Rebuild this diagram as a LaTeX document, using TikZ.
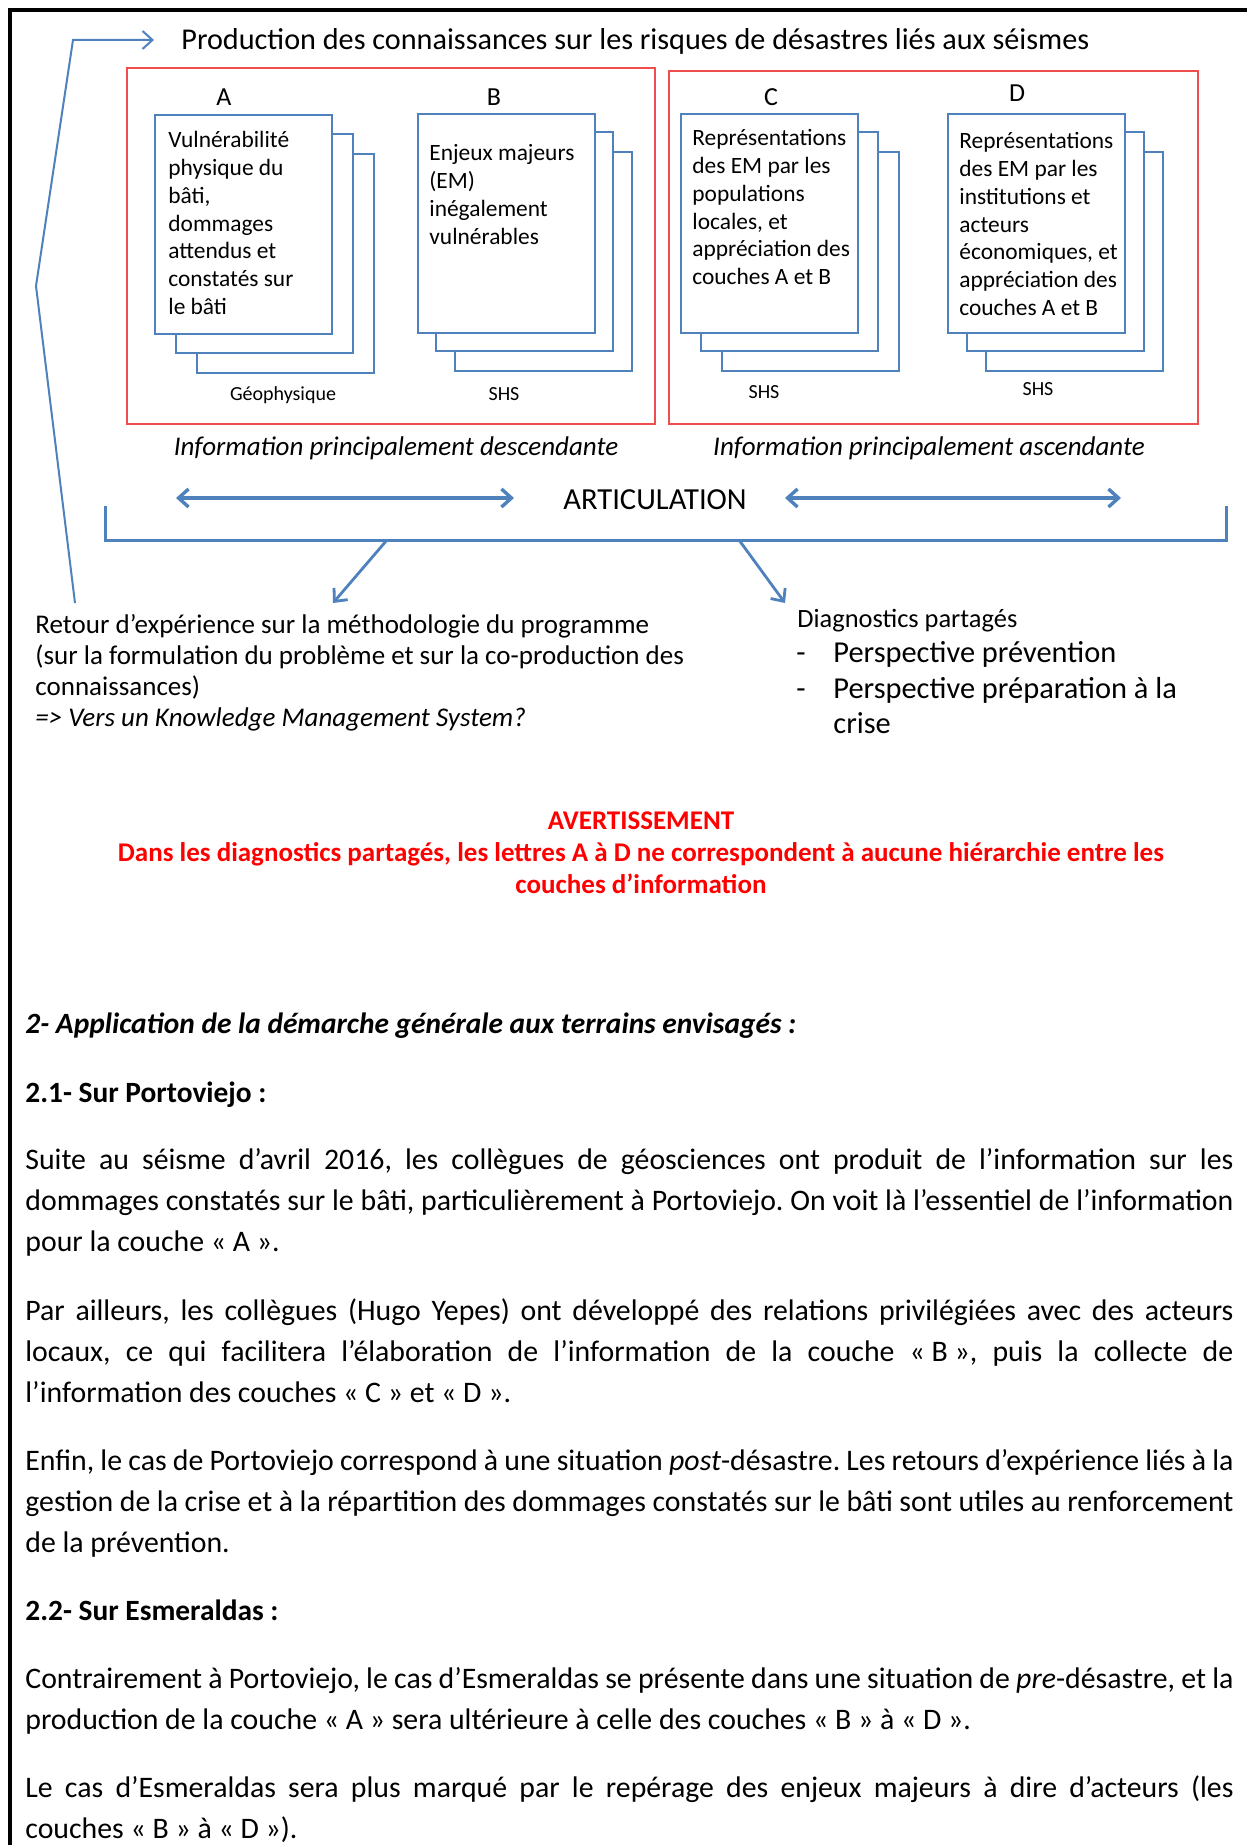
\documentclass[tikz,border=0pt]{standalone}
\usepackage{fontspec}
\setmainfont{Carlito}
\usetikzlibrary{arrows.meta}
\definecolor{obl}{RGB}{79,129,189}
\definecolor{frred}{RGB}{240,78,78}
\definecolor{warn}{RGB}{255,0,0}
\newcommand{\ns}{\spaceskip=0pt\xspaceskip=0pt\relax}
\newcommand{\rs}{\spaceskip=\fontdimen2\font\xspaceskip=\fontdimen2\font\relax}
\newcommand{\jl}[1]{\makebox[604pt][s]{#1}\\}
\newcommand{\gq}[1]{\mbox{« #1 »}}
\frenchspacing
\begin{document}
\begin{tikzpicture}[x=0.5pt,y=-0.5pt,
  pageframe/.style={line width=1.8pt,black},
  redframe/.style={draw=frred,line width=1pt},
  layer/.style={draw=obl,fill=white,line width=1pt,minimum width=88.5pt,minimum height=109.5pt,anchor=north west,inner sep=0pt},
  boxtxt/.style={font=\fontsize{11.7}{13.85}\selectfont,align=left,anchor=base west,inner sep=0pt,text width=95pt},
  letter/.style={font=\fontsize{13}{15}\selectfont,inner sep=0pt},
  lab/.style={font=\fontsize{10}{12}\selectfont,inner sep=0pt,anchor=base},
  conn/.style={draw=obl,line width=1.4pt,-{Straight Barb[length=5pt,width=9pt]}},
  thinconn/.style={draw=obl,line width=1pt,-{Straight Barb[length=5pt,width=9pt]}},
  dbl/.style={draw=obl,line width=1.7pt,{Straight Barb[length=5pt,width=9pt]}-{Straight Barb[length=5pt,width=9pt]}},
  brk/.style={draw=obl,line width=1.5pt},
  body/.style={font=\fontsize{14.9}{20.5}\selectfont,anchor=base west,inner sep=0pt,text width=620pt,align=left},
  head/.style={font=\fontsize{14.7}{16}\selectfont\bfseries,anchor=base west,inner sep=0pt},
  midtxt/.style={font=\fontsize{13.5}{15.5}\selectfont,anchor=base west,inner sep=0pt},
  bullettxt/.style={font=\fontsize{15.2}{17.5}\selectfont,anchor=base west,inner sep=0pt}
]
\useasboundingbox[fill=white] (0,0) rectangle (1247,1845);
% page frame
\draw[pageframe] (10,1845) -- (10,10) -- (1247,10);

% title
\node[font=\fontsize{15.1}{17}\selectfont,anchor=base west,inner sep=0pt] (title) at (181,50) {Production des connaissances sur les risques de désastres liés aux séismes};

% red frames
\draw[redframe] (127,68) rectangle (655,424);
\draw[redframe] (669,71) rectangle (1198,424);

% letters
\node[letter] (LA) at (224,97) {A};
\node[letter] (LB) at (494,97) {B};
\node[letter] (LC) at (771,97) {C};
\node[letter] (LD) at (1017,93) {D};

% stacks
\node[layer] (A3) at (196,153) {};
\node[layer] (A2) at (175,133) {};
\node[layer] (A1) at (154,114) {};
\node[layer] (B3) at (454,151) {};
\node[layer] (B2) at (435,131) {};
\node[layer] (B1) at (417,113) {};
\node[layer] (C3) at (721,151) {};
\node[layer] (C2) at (700,131) {};
\node[layer] (C1) at (680,113) {};
\node[layer] (D3) at (985,151) {};
\node[layer] (D2) at (966,131) {};
\node[layer] (D1) at (947,113) {};

\node[boxtxt] (tA) at (168,148) {\rs Vulnérabilité\\physique du\\bâti,\\dommages\\attendus et\\constatés sur\\le bâti};
\node[boxtxt] (tB) at (429,161) {\rs Enjeux majeurs\\(EM)\\inégalement\\vulnérables};
\node[boxtxt] (tC) at (692,146) {\rs Représentations\\des EM par les\\populations\\locales, et\\appréciation des\\couches A et B};
\node[boxtxt] (tD) at (959,149) {\rs Représentations\\des EM par les\\institutions et\\acteurs\\économiques, et\\appréciation des\\couches A et B};

\node[lab] (gA) at (283,401) {Géophysique};
\node[lab] (gB) at (504,401) {SHS};
\node[lab] (gC) at (764,399) {SHS};
\node[lab] (gD) at (1038,396) {SHS};

% italic captions
\node[font=\fontsize{13.5}{15}\selectfont\itshape,inner sep=0pt,anchor=base] (desc) at (396,456) {Information principalement descendante};
\node[font=\fontsize{13.5}{15}\selectfont\itshape,inner sep=0pt,anchor=base] (asc) at (929,456) {Information principalement ascendante};

% articulation
\node[font=\fontsize{15.3}{17}\selectfont,inner sep=0pt] (art) at (655,500) {ARTICULATION};
\coordinate (la1) at (176,498); \coordinate (la2) at (514,498);
\coordinate (ra1) at (785,498); \coordinate (ra2) at (1121,498);
\draw[dbl] (la1) -- (la2);
\draw[dbl] (ra1) -- (ra2);

% bracket
\coordinate (bl) at (105,506); \coordinate (blc) at (105,540);
\coordinate (brc) at (1226,540); \coordinate (br) at (1226,506);
\draw[brk] (bl) -- (blc) -- (brc) -- (br);
\coordinate (s1) at (387,540); \coordinate (e1) at (333,603);
\coordinate (s2) at (739,540); \coordinate (e2) at (785,603);
\draw[conn] (s1) -- (e1);
\draw[conn] (s2) -- (e2);

% left feedback line
\coordinate (lb) at (75,603); \coordinate (lm) at (36,286);
\coordinate (lt) at (73,40); \coordinate (ti) at (154,40);
\draw[thinconn] (lb) -- (lm) -- (lt) -- (ti);

% retour text
\node[midtxt,text width=420pt,align=left] (ret) at (35,633) {\rs Retour d’expérience sur la méthodologie du programme\\(sur la formulation du problème et sur la co-production des\\connaissances)\\\textit{=> Vers un Knowledge Management System?}};

% diagnostics
\node[midtxt,font=\fontsize{13.2}{15.5}\selectfont] (dg) at (797,627) {Diagnostics partagés};
\node[bullettxt] (dd1) at (796,662) {-};
\node[bullettxt] (dp1) at (833,662) {Perspective prévention};
\node[bullettxt] (dd2) at (796,698) {-};
\node[bullettxt,text width=250pt,align=left] (dp2) at (833,698) {\rs Perspective préparation à la\\crise};

% warning
\node[font=\fontsize{13.5}{16}\selectfont\bfseries,text=warn,anchor=base,inner sep=0pt,align=center,text width=620pt] (warnt) at (641,829) {\rs AVERTISSEMENT\\Dans les diagnostics partagés, les lettres A à D ne correspondent à aucune hiérarchie entre les\\couches d’information};

% section 2
\node[font=\fontsize{14.7}{16}\selectfont\bfseries\itshape,anchor=base west,inner sep=0pt] (h2) at (25,1033) {2- Application de la démarche générale aux terrains envisagés :};
\node[head] (h21) at (25,1102) {2.1- Sur Portoviejo :};
\node[body] (p1) at (25,1169) {\ns\jl{Suite au séisme d’avril 2016, les collègues de géosciences ont produit de l’information sur les}\jl{dommages constatés sur le bâti, particulièrement à Portoviejo. On voit là l’essentiel de l’information}pour la couche \gq{A}.};
\node[body] (p2) at (25,1320) {\ns\jl{Par ailleurs, les collègues (Hugo Yepes) ont développé des relations privilégiées avec des acteurs}\jl{locaux, ce qui facilitera l’élaboration de l’information de la couche \gq{B}, puis la collecte de}l’information des couches \gq{C} et \gq{D}.};
\node[body] (p3) at (25,1470) {\ns\jl{Enfin, le cas de Portoviejo correspond à une situation \textit{post}-désastre. Les retours d’expérience liés à la}\jl{gestion de la crise et à la répartition des dommages constatés sur le bâti sont utiles au renforcement}de la prévention.};
\node[head] (h22) at (25,1620) {2.2- Sur Esmeraldas :};
\node[body] (p4) at (25,1688) {\ns\jl{Contrairement à Portoviejo, le cas d’Esmeraldas se présente dans une situation de \textit{pre}-désastre, et la}production de la couche \gq{A} sera ultérieure à celle des couches \gq{B} à \gq{D}.};
\node[body] (p5) at (25,1797) {\ns\jl{Le cas d’Esmeraldas sera plus marqué par le repérage des enjeux majeurs à dire d’acteurs (les}couches \gq{B} à \gq{D}).};
\end{tikzpicture}
\end{document}
